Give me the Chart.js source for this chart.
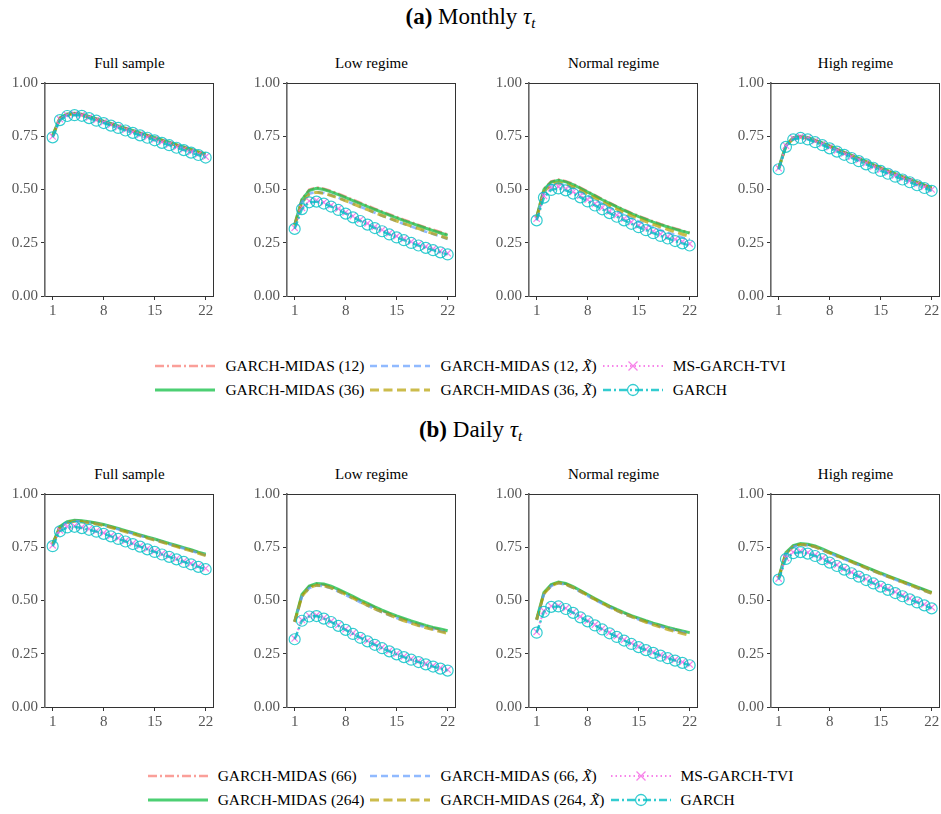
<!DOCTYPE html>
<html><head><meta charset="utf-8">
<script src="https://cdn.jsdelivr.net/npm/chart.js@4.4.1/dist/chart.umd.min.js"></script>
<style>
body{margin:0;background:#fff;}
#fig{position:relative;width:941px;height:814px;overflow:hidden;font-family:'Liberation Serif',serif;color:#000;background:#fff;}
.main{position:absolute;left:0;width:941px;text-align:center;font-size:23px;line-height:26px;}
.main sub{font-size:15px;vertical-align:-4px;line-height:0;}
.sub{position:absolute;width:169px;text-align:center;font-size:15px;line-height:18px;}
.box{position:absolute;}
.legend{position:absolute;left:0;width:941px;display:flex;justify-content:center;}
.lg{display:grid;grid-template-columns:auto auto auto;column-gap:6px;row-gap:2px;font-size:15.5px;}
.it{display:flex;align-items:center;height:22px;white-space:nowrap;}
.it svg{margin-right:10px;}
</style></head><body>
<div id="fig"></div>
<script>
// ---------------- data ----------------
const horizons = [1,2,3,4,5,6,7,8,9,10,11,12,13,14,15,16,17,18,19,20,21,22];
const xTickValues = [1, 8, 15, 22];
const yTickValues = [0, 0.25, 0.5, 0.75, 1];
const panelTitles = ['Full sample', 'Low regime', 'Normal regime', 'High regime'];
const monthlyNames = ['GARCH-MIDAS (12)', 'GARCH-MIDAS (12, X̃)', 'MS-GARCH-TVI', 'GARCH-MIDAS (36)', 'GARCH-MIDAS (36, X̃)', 'GARCH'];
const dailyNames = ['GARCH-MIDAS (66)', 'GARCH-MIDAS (66, X̃)', 'MS-GARCH-TVI', 'GARCH-MIDAS (264)', 'GARCH-MIDAS (264, X̃)', 'GARCH'];

// Monthly tau_t — Full sample
const mFull_short  = [0.752,0.834,0.853,0.856,0.852,0.841,0.830,0.819,0.808,0.797,0.786,0.775,0.764,0.753,0.742,0.731,0.720,0.709,0.698,0.687,0.676,0.665];
const mFull_shortX = [0.749,0.831,0.850,0.853,0.849,0.838,0.827,0.816,0.805,0.794,0.783,0.772,0.761,0.750,0.739,0.728,0.717,0.706,0.695,0.684,0.673,0.662];
const mFull_ms     = [0.749,0.830,0.849,0.853,0.850,0.839,0.827,0.816,0.804,0.793,0.781,0.770,0.758,0.747,0.735,0.723,0.712,0.700,0.689,0.677,0.666,0.654];
const mFull_long   = [0.754,0.836,0.855,0.858,0.854,0.843,0.832,0.821,0.810,0.799,0.788,0.777,0.766,0.755,0.744,0.733,0.722,0.711,0.700,0.689,0.678,0.667];
const mFull_longX  = [0.750,0.832,0.851,0.854,0.850,0.839,0.828,0.817,0.806,0.795,0.784,0.773,0.762,0.751,0.740,0.729,0.718,0.707,0.696,0.685,0.674,0.663];
const mFull_garch  = [0.745,0.826,0.845,0.849,0.846,0.835,0.823,0.812,0.800,0.789,0.777,0.766,0.754,0.743,0.731,0.719,0.708,0.696,0.685,0.673,0.662,0.650];
// Monthly — Low regime
const mLow_short  = [0.338,0.455,0.499,0.510,0.504,0.493,0.480,0.466,0.452,0.438,0.424,0.410,0.397,0.384,0.371,0.358,0.346,0.334,0.322,0.311,0.300,0.289];
const mLow_shortX = [0.332,0.442,0.480,0.489,0.484,0.474,0.461,0.447,0.433,0.419,0.405,0.391,0.377,0.364,0.351,0.338,0.326,0.314,0.302,0.291,0.280,0.268];
const mLow_ms     = [0.320,0.414,0.446,0.449,0.440,0.426,0.410,0.393,0.375,0.358,0.341,0.325,0.310,0.295,0.281,0.268,0.255,0.243,0.232,0.221,0.211,0.201];
const mLow_long   = [0.335,0.452,0.495,0.506,0.500,0.489,0.476,0.462,0.448,0.434,0.420,0.406,0.393,0.380,0.367,0.354,0.342,0.330,0.318,0.307,0.296,0.285];
const mLow_longX  = [0.330,0.440,0.478,0.487,0.482,0.472,0.460,0.447,0.433,0.419,0.405,0.391,0.378,0.365,0.352,0.340,0.328,0.316,0.304,0.293,0.282,0.270];
const mLow_garch  = [0.315,0.408,0.440,0.443,0.434,0.420,0.404,0.387,0.369,0.352,0.335,0.319,0.304,0.289,0.275,0.262,0.249,0.237,0.226,0.215,0.205,0.195];
// Monthly — Normal regime
const mNorm_short  = [0.373,0.503,0.538,0.546,0.539,0.526,0.509,0.491,0.473,0.455,0.438,0.421,0.405,0.390,0.376,0.363,0.350,0.338,0.327,0.317,0.307,0.298];
const mNorm_shortX = [0.362,0.485,0.520,0.527,0.520,0.506,0.489,0.470,0.451,0.433,0.415,0.398,0.381,0.365,0.350,0.336,0.322,0.309,0.297,0.286,0.275,0.265];
const mNorm_ms     = [0.363,0.470,0.506,0.513,0.504,0.489,0.471,0.452,0.433,0.415,0.397,0.380,0.363,0.347,0.331,0.317,0.303,0.290,0.278,0.266,0.255,0.245];
const mNorm_long   = [0.370,0.500,0.535,0.543,0.536,0.523,0.506,0.488,0.470,0.452,0.435,0.418,0.402,0.387,0.373,0.360,0.347,0.335,0.324,0.314,0.304,0.295];
const mNorm_longX  = [0.365,0.490,0.525,0.532,0.525,0.512,0.496,0.478,0.460,0.442,0.425,0.408,0.392,0.377,0.363,0.349,0.336,0.324,0.312,0.301,0.290,0.280];
const mNorm_garch  = [0.355,0.462,0.498,0.505,0.496,0.481,0.463,0.444,0.425,0.407,0.389,0.372,0.355,0.339,0.323,0.309,0.295,0.282,0.270,0.258,0.247,0.237];
// Monthly — High regime
const mHigh_short  = [0.598,0.706,0.741,0.748,0.742,0.730,0.717,0.703,0.688,0.673,0.659,0.644,0.630,0.615,0.601,0.587,0.573,0.559,0.546,0.533,0.520,0.507];
const mHigh_shortX = [0.596,0.703,0.738,0.745,0.739,0.727,0.713,0.699,0.684,0.669,0.655,0.640,0.626,0.611,0.597,0.583,0.569,0.555,0.542,0.529,0.516,0.503];
const mHigh_ms     = [0.600,0.706,0.741,0.748,0.741,0.728,0.714,0.699,0.684,0.669,0.654,0.639,0.624,0.608,0.593,0.580,0.566,0.553,0.540,0.526,0.513,0.500];
const mHigh_long   = [0.600,0.708,0.743,0.750,0.744,0.732,0.719,0.705,0.690,0.675,0.661,0.646,0.632,0.617,0.603,0.589,0.575,0.561,0.548,0.535,0.522,0.509];
const mHigh_longX  = [0.597,0.704,0.739,0.746,0.740,0.728,0.715,0.701,0.686,0.671,0.657,0.642,0.628,0.613,0.599,0.585,0.571,0.557,0.544,0.531,0.518,0.505];
const mHigh_garch  = [0.595,0.700,0.735,0.742,0.735,0.722,0.708,0.693,0.678,0.663,0.648,0.633,0.618,0.602,0.587,0.574,0.560,0.547,0.534,0.520,0.507,0.494];

// Daily tau_t — Full sample
const dFull_short  = [0.765,0.845,0.868,0.875,0.873,0.868,0.862,0.855,0.846,0.836,0.826,0.816,0.806,0.796,0.787,0.777,0.766,0.756,0.746,0.736,0.725,0.715];
const dFull_shortX = [0.763,0.843,0.866,0.873,0.871,0.866,0.860,0.853,0.844,0.834,0.824,0.814,0.804,0.794,0.785,0.775,0.764,0.754,0.744,0.734,0.723,0.713];
const dFull_ms     = [0.759,0.829,0.847,0.850,0.844,0.836,0.827,0.817,0.805,0.793,0.781,0.769,0.757,0.744,0.732,0.720,0.709,0.697,0.685,0.674,0.662,0.651];
const dFull_long   = [0.767,0.847,0.870,0.877,0.875,0.870,0.864,0.857,0.848,0.838,0.828,0.818,0.808,0.798,0.789,0.779,0.768,0.758,0.748,0.738,0.727,0.717];
const dFull_longX  = [0.762,0.842,0.865,0.872,0.870,0.865,0.859,0.852,0.843,0.833,0.823,0.813,0.803,0.793,0.784,0.774,0.763,0.753,0.743,0.733,0.722,0.711];
const dFull_garch  = [0.755,0.825,0.843,0.846,0.840,0.832,0.823,0.813,0.801,0.789,0.777,0.765,0.753,0.740,0.728,0.716,0.705,0.693,0.681,0.670,0.658,0.647];
// Daily — Low regime
const dLow_short  = [0.400,0.525,0.565,0.577,0.574,0.564,0.549,0.533,0.516,0.499,0.483,0.467,0.452,0.438,0.424,0.412,0.400,0.390,0.380,0.371,0.363,0.356];
const dLow_shortX = [0.398,0.518,0.558,0.570,0.567,0.557,0.542,0.526,0.509,0.492,0.476,0.460,0.445,0.431,0.418,0.406,0.395,0.384,0.374,0.365,0.357,0.350];
const dLow_ms     = [0.322,0.409,0.429,0.431,0.419,0.403,0.385,0.366,0.347,0.329,0.312,0.296,0.280,0.265,0.251,0.238,0.226,0.215,0.204,0.194,0.184,0.175];
const dLow_long   = [0.402,0.528,0.568,0.580,0.577,0.567,0.552,0.536,0.519,0.502,0.486,0.470,0.455,0.441,0.428,0.416,0.404,0.393,0.383,0.374,0.366,0.358];
const dLow_longX  = [0.399,0.520,0.560,0.572,0.569,0.559,0.544,0.528,0.511,0.494,0.477,0.461,0.446,0.432,0.418,0.405,0.393,0.382,0.372,0.363,0.354,0.346];
const dLow_garch  = [0.318,0.405,0.425,0.427,0.415,0.399,0.381,0.362,0.343,0.325,0.308,0.292,0.276,0.261,0.247,0.234,0.222,0.211,0.200,0.190,0.180,0.171];
// Daily — Normal regime
const dNorm_short  = [0.410,0.535,0.572,0.585,0.578,0.563,0.545,0.526,0.507,0.489,0.472,0.456,0.441,0.427,0.415,0.403,0.392,0.382,0.372,0.363,0.355,0.347];
const dNorm_shortX = [0.408,0.530,0.568,0.581,0.574,0.559,0.541,0.522,0.503,0.485,0.468,0.452,0.437,0.423,0.411,0.399,0.388,0.378,0.368,0.359,0.351,0.343];
const dNorm_ms     = [0.353,0.451,0.474,0.476,0.464,0.446,0.425,0.406,0.387,0.368,0.350,0.333,0.316,0.300,0.285,0.271,0.258,0.245,0.233,0.222,0.211,0.200];
const dNorm_long   = [0.412,0.538,0.575,0.587,0.580,0.565,0.547,0.528,0.509,0.491,0.474,0.458,0.443,0.429,0.417,0.405,0.394,0.384,0.374,0.365,0.357,0.349];
const dNorm_longX  = [0.409,0.532,0.570,0.583,0.576,0.561,0.543,0.524,0.505,0.487,0.470,0.453,0.438,0.424,0.411,0.398,0.386,0.375,0.364,0.354,0.345,0.336];
const dNorm_garch  = [0.349,0.447,0.470,0.472,0.460,0.442,0.421,0.402,0.383,0.364,0.346,0.329,0.312,0.296,0.281,0.267,0.254,0.241,0.229,0.218,0.207,0.196];
// Daily — High regime
const dHigh_short  = [0.605,0.722,0.755,0.765,0.762,0.754,0.740,0.725,0.711,0.697,0.683,0.669,0.655,0.641,0.627,0.614,0.601,0.588,0.575,0.562,0.549,0.536];
const dHigh_shortX = [0.603,0.719,0.752,0.762,0.759,0.751,0.737,0.722,0.708,0.694,0.680,0.666,0.652,0.638,0.624,0.611,0.598,0.585,0.572,0.559,0.546,0.533];
const dHigh_ms     = [0.603,0.700,0.727,0.732,0.725,0.714,0.699,0.683,0.667,0.650,0.633,0.617,0.601,0.585,0.570,0.555,0.540,0.525,0.510,0.496,0.482,0.468];
const dHigh_long   = [0.607,0.725,0.758,0.767,0.764,0.756,0.742,0.727,0.713,0.699,0.685,0.671,0.657,0.643,0.629,0.616,0.603,0.590,0.577,0.564,0.551,0.538];
const dHigh_longX  = [0.604,0.720,0.753,0.763,0.760,0.752,0.738,0.723,0.709,0.695,0.681,0.667,0.653,0.639,0.625,0.612,0.599,0.586,0.573,0.560,0.547,0.534];
const dHigh_garch  = [0.598,0.695,0.722,0.727,0.720,0.709,0.694,0.678,0.662,0.645,0.628,0.612,0.596,0.580,0.565,0.550,0.535,0.520,0.505,0.491,0.477,0.463];

const monthlyPanels = [
  [mFull_short, mFull_shortX, mFull_ms, mFull_long, mFull_longX, mFull_garch],
  [mLow_short,  mLow_shortX,  mLow_ms,  mLow_long,  mLow_longX,  mLow_garch],
  [mNorm_short, mNorm_shortX, mNorm_ms, mNorm_long, mNorm_longX, mNorm_garch],
  [mHigh_short, mHigh_shortX, mHigh_ms, mHigh_long, mHigh_longX, mHigh_garch]
];
const dailyPanels = [
  [dFull_short, dFull_shortX, dFull_ms, dFull_long, dFull_longX, dFull_garch],
  [dLow_short,  dLow_shortX,  dLow_ms,  dLow_long,  dLow_longX,  dLow_garch],
  [dNorm_short, dNorm_shortX, dNorm_ms, dNorm_long, dNorm_longX, dNorm_garch],
  [dHigh_short, dHigh_shortX, dHigh_ms, dHigh_long, dHigh_longX, dHigh_garch]
];

// ---------------- styles / layout ----------------
const styles = [
  {color:'rgba(248,118,109,0.7)', dash:[9,3,2,3], width:2.6, order:5},
  {color:'rgba(97,156,255,0.7)',  dash:[7,4],     width:2.6, order:3},
  {color:'rgba(245,100,227,0.8)', dash:[1.5,3],   width:2,   order:1, point:'crossRot', r:4.5},
  {color:'rgba(0,186,56,0.7)',    dash:[],        width:3,   order:4},
  {color:'rgba(183,159,0,0.7)',   dash:[9,4.5],   width:3,   order:2},
  {color:'rgba(0,191,196,0.8)',   dash:[8,3,2,3], width:2.4, order:0, point:'circle', r:5.5}
];
const plotLefts = [45, 287, 529, 771];
const plotW = 169, plotH = 215;
const rowTops = [81, 492];
const Y_AXIS_W = 44, X_AXIS_H = 28, PAD_T = 10, PAD_R = 6;
const tickFont = {family:"'Liberation Serif', serif", size:15};
const tickColor = '#555';
const axisColor = '#333';

const fig = document.getElementById('fig');
function addDiv(cls, css, html){
  const d = document.createElement('div'); d.className = cls; d.style.cssText = css; d.innerHTML = html; fig.appendChild(d); return d;
}
addDiv('main', 'top:4px;', '<b>(a)</b> Monthly <i>τ<sub>t</sub></i>');
addDiv('main', 'top:417px;', '<b>(b)</b> Daily <i>τ<sub>t</sub></i>');

function legendSample(s){
  const dash = s.dash.length ? s.dash.join(' ') : 'none';
  let marker = '';
  if (s.point === 'crossRot') marker = `<path d="M25.5 3.5 L34.5 12.5 M34.5 3.5 L25.5 12.5" stroke="${s.color}" stroke-width="1.3" fill="none"/>`;
  if (s.point === 'circle') marker = `<circle cx="30" cy="8" r="5.5" stroke="${s.color}" stroke-width="1.3" fill="none"/>`;
  return `<svg width="60" height="16"><line x1="0" y1="8" x2="60" y2="8" stroke="${s.color}" stroke-width="${s.width}" stroke-dasharray="${dash}"/>${marker}</svg>`;
}
function fmtName(n){ return n.replace('X̃', '<i>X̃</i>'); }
function addLegend(names, top){
  const order = [0,1,2,3,4,5]; // row-major in grid: row1: 0,1,2 ; row2: 3,4,5
  let html = '<div class="lg">';
  order.forEach(i => { html += `<div class="it">${legendSample(styles[i])}<span>${fmtName(names[i])}</span></div>`; });
  html += '</div>';
  addDiv('legend', `top:${top}px;`, html);
}
addLegend(monthlyNames, 355);
addLegend(dailyNames, 765);

function makePanel(row, col, seriesList, names){
  const pl = plotLefts[col], pt = rowTops[row];
  addDiv('sub', `left:${pl}px;top:${pt - 27}px;`, panelTitles[col]);
  const box = document.createElement('div'); box.className = 'box';
  const W = Y_AXIS_W + plotW + PAD_R, H = PAD_T + plotH + X_AXIS_H;
  box.style.cssText = `left:${pl - Y_AXIS_W}px;top:${pt - PAD_T}px;width:${W}px;height:${H}px;`;
  const cv = document.createElement('canvas'); cv.width = W; cv.height = H; cv.style.width = W+'px'; cv.style.height = H+'px';
  box.appendChild(cv); fig.appendChild(box);
  const datasets = seriesList.map((vals, i) => {
    const s = styles[i];
    return {
      label: names[i],
      data: horizons.map((h, k) => ({x: h, y: vals[k]})),
      borderColor: s.color, borderWidth: s.width, borderDash: s.dash,
      backgroundColor: 'rgba(0,0,0,0)', fill: false, tension: 0, order: s.order,
      pointRadius: s.point ? s.r : 0, pointStyle: s.point || 'circle',
      pointBorderColor: s.color, pointBackgroundColor: 'rgba(0,0,0,0)', pointBorderWidth: 1.2,
      clip: false
    };
  });
  new Chart(cv, {
    type: 'line',
    data: {datasets},
    options: {
      responsive: false, animation: false, maintainAspectRatio: false,
      layout: {padding: {top: PAD_T, right: PAD_R, left: 0, bottom: 0}},
      plugins: {legend: {display: false}, tooltip: {enabled: false}, title: {display: false}},
      scales: {
        x: {type: 'linear', position: 'bottom', min: -0.05, max: 23.05,
            afterBuildTicks: s => { s.ticks = xTickValues.map(v => ({value: v})); },
            afterFit: s => { s.height = X_AXIS_H; },
            ticks: {font: tickFont, color: tickColor, padding: 2, maxRotation: 0, autoSkip: false, callback: v => String(v)},
            grid: {drawOnChartArea: false, drawTicks: true, tickLength: 4, color: axisColor, lineWidth: 1},
            border: {display: true, color: axisColor, width: 1}},
        y: {type: 'linear', position: 'left', min: 0, max: 1,
            afterBuildTicks: s => { s.ticks = yTickValues.map(v => ({value: v})); },
            afterFit: s => { s.width = Y_AXIS_W; },
            ticks: {font: tickFont, color: tickColor, padding: 3, autoSkip: false, callback: v => Number(v).toFixed(2)},
            grid: {drawOnChartArea: false, drawTicks: true, tickLength: 4, color: axisColor, lineWidth: 1},
            border: {display: true, color: '#666', width: 1.6}},
        xTop: {type: 'linear', position: 'top', display: true, min: 0, max: 1,
            afterFit: s => { s.height = 0; },
            ticks: {display: false}, grid: {drawOnChartArea: false, drawTicks: false},
            border: {display: true, color: axisColor, width: 1}},
        yRight: {type: 'linear', position: 'right', display: true, min: 0, max: 1,
            afterFit: s => { s.width = 0; },
            ticks: {display: false}, grid: {drawOnChartArea: false, drawTicks: false},
            border: {display: true, color: axisColor, width: 1}}
      }
    }
  });
}
for (let c = 0; c < 4; c++) makePanel(0, c, monthlyPanels[c], monthlyNames);
for (let c = 0; c < 4; c++) makePanel(1, c, dailyPanels[c], dailyNames);
</script>
</body></html>
